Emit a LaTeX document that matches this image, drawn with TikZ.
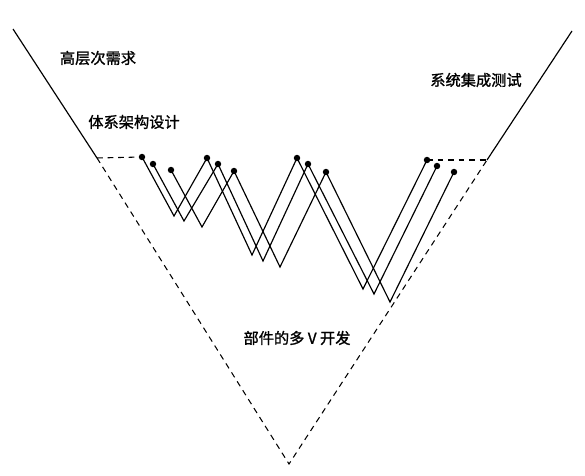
\documentclass[tikz,border=0pt]{standalone}
\usepackage{fontspec}
\newfontfamily\cjk{Noto Sans CJK SC}[FakeBold=1.2]
\tikzset{
    dot/.style={circle,fill,minimum size=5.5pt,inner sep=0pt},
    stage/.style={font=\cjk\fontsize{13}{15}\selectfont,inner sep=0pt},
    guide/.style={line width=0.9pt,dash pattern=on 5pt off 4pt},
    arm/.style={line width=1pt},
    zig/.style={line width=1pt,line join=miter},
    }

\begin{document}
\begin{tikzpicture}[x=0.03cm,y=-0.03cm]
	\useasboundingbox (0,0) rectangle (585,476);
	\coordinate (lt) at (13,29);
	\coordinate (lm) at (97,158);
	\coordinate (apex) at (289,464);
	\coordinate (rm) at (487,160);
	\coordinate (rt) at (572,31);

	\node[dot] (a1) at (142,157) {};
	\node[dot] (a2) at (153,164) {};
	\node[dot] (a3) at (171,170) {};
	\node[dot] (b1) at (207,158) {};
	\node[dot] (b2) at (218,164) {};
	\node[dot] (b3) at (234,171) {};
	\node[dot] (c1) at (297,158) {};
	\node[dot] (c2) at (308,164) {};
	\node[dot] (c3) at (326,172) {};
	\node[dot] (e1) at (427,160) {};
	\node[dot] (e2) at (437,166) {};
	\node[dot] (e3) at (454,172) {};

	\coordinate (u1) at (174,216);
	\coordinate (u2) at (184,221);
	\coordinate (u3) at (202,227);
	\coordinate (v1) at (252,255);
	\coordinate (v2) at (263,261);
	\coordinate (v3) at (280,267);
	\coordinate (w1) at (363,289);
	\coordinate (w2) at (374,294);
	\coordinate (w3) at (390,302);

	\node[stage] (req) at (98,58) {高层次需求};
	\node[stage] (arch) at (134,122) {体系架构设计};
	\node[stage] (test) at (476,80) {系统集成测试};
	\node[stage] (part) at (297,338) {部件的多 V 开发};

	% outer V
	\draw[arm] (lt) -- (lm);
	\draw[arm] (rm) -- (rt);
	\draw[guide] (lm) -- (apex) -- (rm);
	\draw[guide] (lm) -- (a1.center);
	\draw[guide] (e1.center) -- (rm);

	% the three W lines
	\draw[zig] (a1.center) -- (u1) -- (b1.center) -- (v1) -- (c1.center) -- (w1) -- (e1.center);
	\draw[zig] (a2.center) -- (u2) -- (b2.center) -- (v2) -- (c2.center) -- (w2) -- (e2.center);
	\draw[zig] (a3.center) -- (u3) -- (b3.center) -- (v3) -- (c3.center) -- (w3) -- (e3.center);
\end{tikzpicture}
\end{document}
